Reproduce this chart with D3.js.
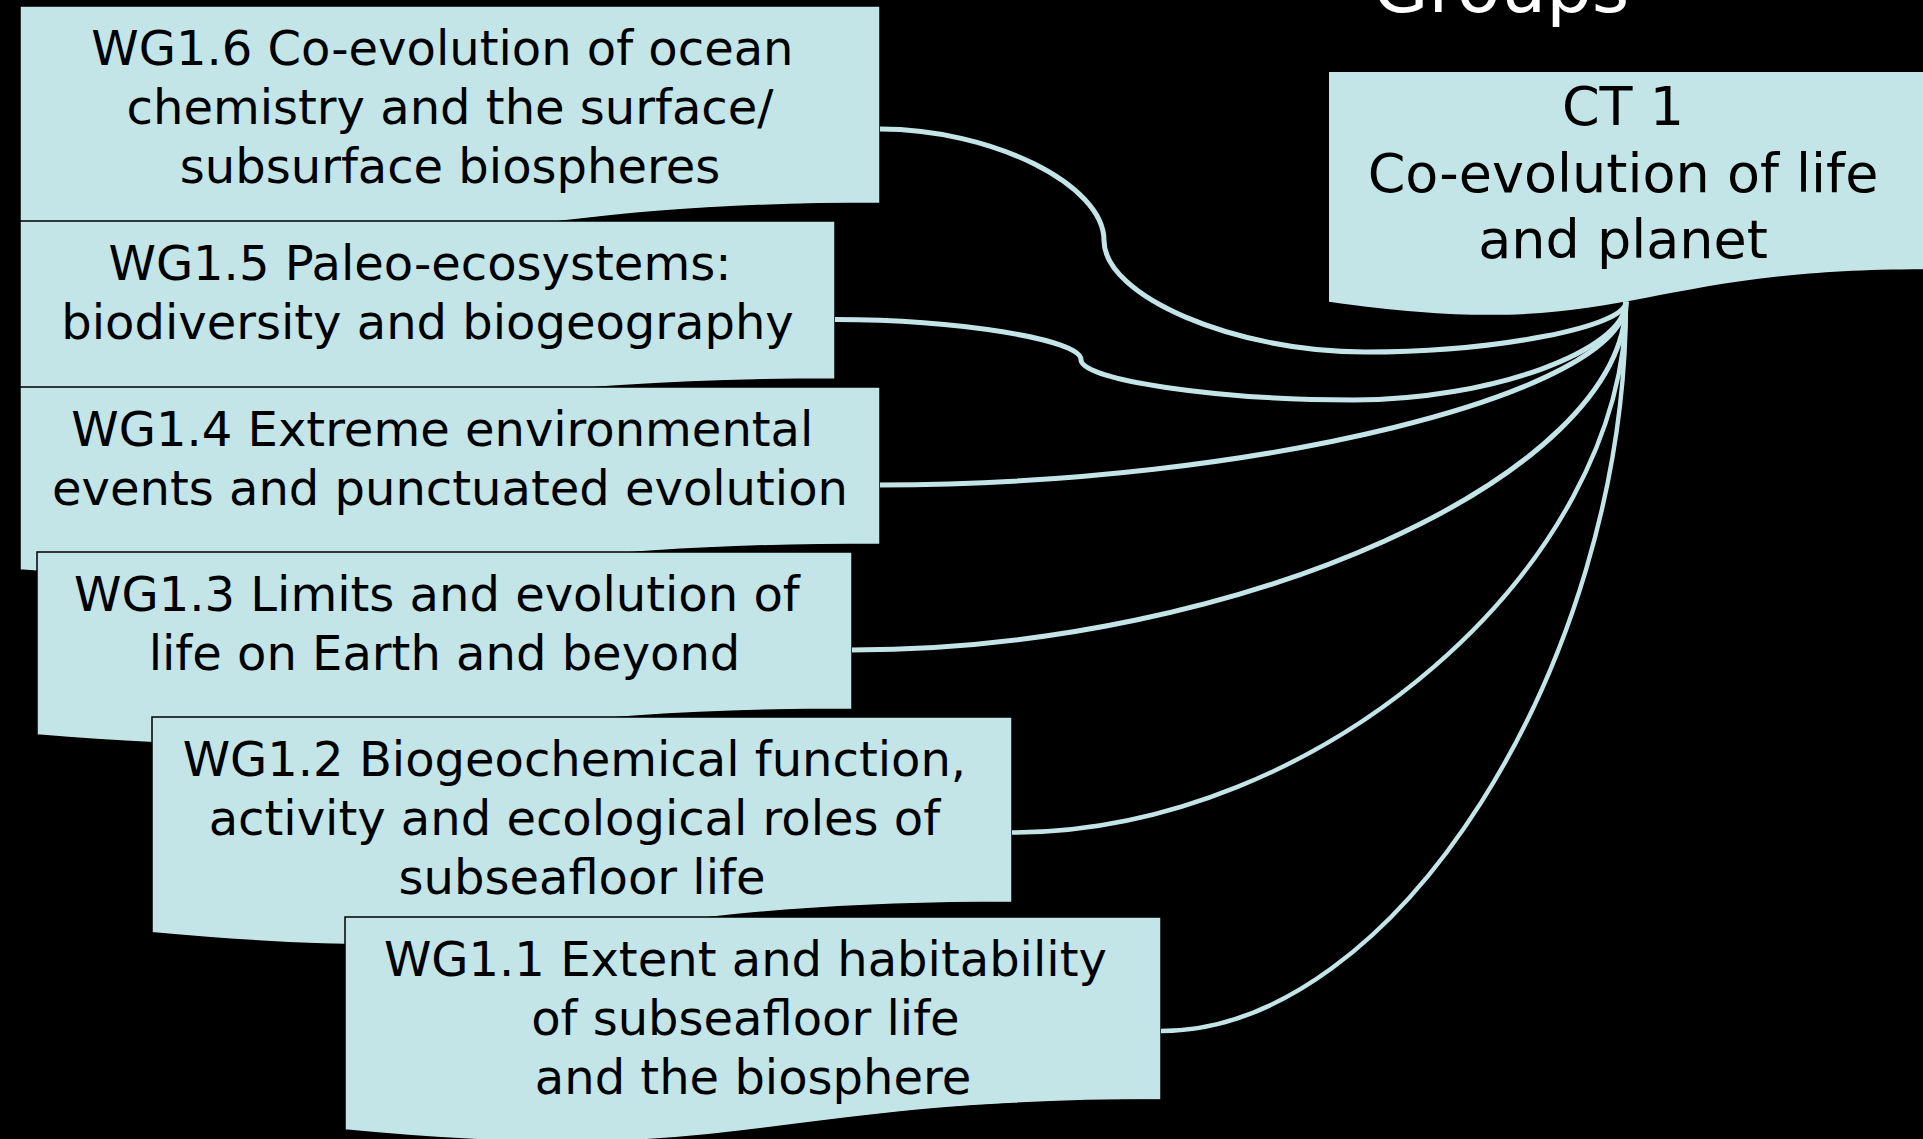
<!DOCTYPE html>
<html><head><meta charset="utf-8">
<script src="https://cdn.jsdelivr.net/npm/d3@7"></script>
<style>
html,body{margin:0;padding:0;background:#000;overflow:hidden}
svg{display:block}
</style></head><body>
<svg id="chart" width="1923" height="1139"></svg>
<script>
// ---------- content ----------
const titleText = "Groups";
const hubLines = ["CT 1", "Co-evolution of life", "and planet"];
const groupIds = ["WG1.6", "WG1.5", "WG1.4", "WG1.3", "WG1.2", "WG1.1"];
const groupLines = [
  ["WG1.6 Co-evolution of ocean ", "chemistry and the surface/", "subsurface biospheres"],
  ["WG1.5 Paleo-ecosystems: ", "biodiversity and biogeography"],
  ["WG1.4 Extreme environmental ", "events and punctuated evolution"],
  ["WG1.3 Limits and evolution of ", "life on Earth and beyond"],
  ["WG1.2 Biogeochemical function, ", "activity and ecological roles of ", "subseafloor life"],
  ["WG1.1 Extent and habitability ", "of subseafloor life ", "and the biosphere"]
];

// ---------- layout (pixels) ----------
const boxLayout = [
  {x: 20,  y: 6,   w: 860, h: 246},
  {x: 20,  y: 221, w: 815, h: 197},
  {x: 20,  y: 387, w: 860, h: 196},
  {x: 37,  y: 552, w: 815, h: 196},
  {x: 152, y: 717, w: 860, h: 231},
  {x: 345, y: 917, w: 816, h: 228}
];
const hubLayout = {x: 1329, y: 72, w: 594, h: 246};
// connector routing: knee = [x of vertical turn, y of lowest horizontal run] for 3-bend connectors
const routeKnees = [[1104, 352], [1081, 400], null, null, null, null];
const lineWidths = [5, 5, 5, 5, 4.4, 4.4];

const FILL = "#c3e5e8";
const svg = d3.select("#chart");
svg.append("rect").attr("width", 1923).attr("height", 1139).attr("fill", "#000");

// flowchart "document" shape
const R1 = 17322 / 21600, R2 = 23922 / 21600, R3 = 20172 / 21600;
function docPath(b) {
  const p = d3.path();
  p.moveTo(b.x, b.y);
  p.lineTo(b.x + b.w, b.y);
  p.lineTo(b.x + b.w, b.y + b.h * R1);
  p.bezierCurveTo(b.x + b.w / 2, b.y + b.h * R1, b.x + b.w / 2, b.y + b.h * R2, b.x, b.y + b.h * R3);
  p.closePath();
  return p.toString();
}

// title (cropped at top, as in the original slide)
svg.append("text")
  .attr("x", 1501).attr("y", 12)
  .attr("text-anchor", "middle")
  .attr("font-family", "DejaVu Sans, sans-serif")
  .attr("font-size", 72)
  .attr("fill", "#fff")
  .text(titleText);

const groups = groupIds.map((id, i) => ({id, lines: groupLines[i], box: boxLayout[i], knee: routeKnees[i], lw: lineWidths[i]}));

// boxes (top one first so lower ones overlap it)
const g = svg.append("g");
groups.forEach(d => {
  g.append("path").attr("d", docPath(d.box)).attr("fill", FILL).attr("stroke", "#000").attr("stroke-width", 1.5);
  const t = g.append("text")
    .attr("font-family", "DejaVu Sans, sans-serif")
    .attr("font-size", 48)
    .attr("fill", "#000")
    .attr("text-anchor", "middle")
    .style("white-space", "pre");
  d.lines.forEach((ln, j) => {
    t.append("tspan").attr("x", d.box.x + d.box.w / 2).attr("y", d.box.y + 59 + j * 59).text(ln);
  });
});

// hub box
svg.append("path").attr("d", docPath(hubLayout)).attr("fill", FILL);
const ht = svg.append("text")
  .attr("font-family", "DejaVu Sans, sans-serif")
  .attr("font-size", 54)
  .attr("fill", "#000")
  .attr("text-anchor", "middle");
hubLines.forEach((ln, j) => {
  ht.append("tspan").attr("x", hubLayout.x + hubLayout.w / 2 - 3).attr("y", hubLayout.y + 53 + j * 66.5).text(ln);
});

// connectors
const end = [hubLayout.x + hubLayout.w / 2, hubLayout.y + hubLayout.h * R3];
function connector(d) {
  const s = [d.box.x + d.box.w, d.box.y + d.box.h / 2];
  const p = d3.path();
  p.moveTo(s[0], s[1]);
  if (d.knee) {
    const X = d.knee[0], Y = d.knee[1];
    const ym = (s[1] + Y) / 2, xm = (X + end[0]) / 2;
    p.bezierCurveTo((s[0] + X) / 2, s[1], X, (s[1] + ym) / 2, X, ym);
    p.bezierCurveTo(X, (ym + Y) / 2, (X + xm) / 2, Y, xm, Y);
    p.bezierCurveTo((xm + end[0]) / 2, Y, end[0], (Y + end[1]) / 2, end[0], end[1]);
  } else {
    p.bezierCurveTo((s[0] + end[0]) / 2, s[1], end[0], (s[1] + end[1]) / 2, end[0], end[1]);
  }
  return p.toString();
}
svg.append("g").selectAll("path").data(groups).join("path")
  .attr("d", connector)
  .attr("fill", "none")
  .attr("stroke", FILL)
  .attr("stroke-width", d => d.lw)
  .attr("stroke-linecap", "butt");
</script>
</body></html>
